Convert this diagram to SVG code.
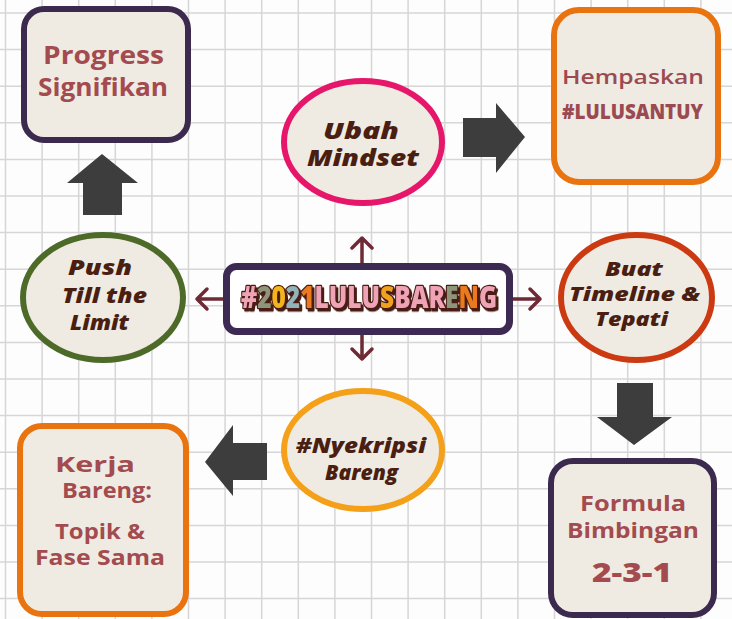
<svg xmlns="http://www.w3.org/2000/svg" width="732" height="619" viewBox="0 0 732 619">
<defs>
<style>
.bg{fill:#fdfdfd}
.grid{stroke:#d6d6d6;stroke-width:1.5;fill:none}
.box{fill:#efebe2;stroke-width:6}
.boxtxt{font-family:"Open Sans","Liberation Sans",sans-serif;font-weight:700;fill:#a34b4f;text-anchor:middle}
.lite{font-weight:600}
.heavy{font-weight:800}
.ital{font-family:"Open Sans","Liberation Sans",sans-serif;font-weight:800;font-style:italic;fill:#4a1f12;text-anchor:middle}
.block{fill:#3d3d3d}
.thin{stroke:#6e2a35;stroke-width:3.5;fill:none;stroke-linecap:round;stroke-linejoin:round}
.hash{font-family:"Open Sans","Liberation Sans",sans-serif;font-weight:800;font-size:25px;stroke:#4a1e14;stroke-width:2.2;stroke-linejoin:round;paint-order:stroke;text-anchor:middle}
.pk{fill:#efa3b6}.ol{fill:#8e957a}.ye{fill:#f2b51e}.bl{fill:#93b3bb}.or{fill:#ec7a1a}.ys{fill:#f0a21e}
</style>
<filter id="shadow" x="-10%" y="-30%" width="120%" height="160%">
<feDropShadow dx="2" dy="2" stdDeviation="0" flood-color="#4a1e14" flood-opacity="1"/>
</filter>
</defs>
<rect class="bg" x="0" y="0" width="732" height="619"/>
<path class="grid" d="M5.5 0V619M42.1 0V619M78.7 0V619M115.3 0V619M151.9 0V619M188.5 0V619M225.1 0V619M261.7 0V619M298.3 0V619M334.9 0V619M371.5 0V619M408.1 0V619M444.7 0V619M481.3 0V619M517.9 0V619M554.5 0V619M591.1 0V619M627.7 0V619M664.3 0V619M700.9 0V619M0 13H732M0 49.6H732M0 86.2H732M0 122.8H732M0 159.4H732M0 196H732M0 232.6H732M0 269.2H732M0 305.8H732M0 342.4H732M0 379H732M0 415.6H732M0 452.2H732M0 488.8H732M0 525.4H732M0 562H732M0 598.6H732"/>

<g id="connectors">
<polygon class="block" points="102,154 138,183 122,183 122,215 83,215 83,183 67,183"/>
<polygon class="block" points="463,118 496,118 496,103 525,137 496,173 496,157 463,157"/>
<polygon class="block" points="617,383 653,383 653,417 672,417 634,445 597,417 617,417"/>
<polygon class="block" points="205,462 233,425 233,443 267,443 267,480 233,480 233,496"/>
<path class="thin" d="M362 263V238M352 248L362 238L372 248"/>
<path class="thin" d="M362 335V359M352 349L362 359L372 349"/>
<path class="thin" d="M223 299H197M207 289L197 299L207 309"/>
<path class="thin" d="M513 299H540M530 289L540 299L530 309"/>
</g>

<g id="progress">
<rect class="box" x="24" y="9" width="164" height="131" rx="20" stroke="#3b2a4d"/>
<text class="boxtxt" font-size="25" x="103.5" y="64" textLength="121" lengthAdjust="spacingAndGlyphs">Progress</text>
<text class="boxtxt" font-size="25" x="103" y="96" textLength="130" lengthAdjust="spacingAndGlyphs">Signifikan</text>
</g>

<g id="hempaskan">
<rect class="box" x="554" y="10" width="164" height="172" rx="25" stroke="#e8730f"/>
<text class="boxtxt lite" font-size="20" x="633" y="84" textLength="142" lengthAdjust="spacingAndGlyphs" style="fill:#9c4a52">Hempaskan</text>
<text class="boxtxt heavy" font-size="21" x="632.5" y="119" textLength="141" lengthAdjust="spacingAndGlyphs" style="fill:#9c4a52">#LULUSANTUY</text>
</g>

<g id="ubah">
<ellipse cx="363" cy="142" rx="79" ry="61" fill="#efebe2" stroke="#e6176a" stroke-width="6"/>
<text class="ital" font-size="22" x="361" y="139" textLength="76" lengthAdjust="spacingAndGlyphs">Ubah</text>
<text class="ital" font-size="22" x="363" y="166" textLength="112" lengthAdjust="spacingAndGlyphs">Mindset</text>
</g>

<g id="center">
<rect x="226.5" y="266.5" width="283" height="65" rx="10" fill="#ffffff" stroke="#3d2a52" stroke-width="7"/>
<g filter="url(#shadow)" transform="translate(0,308) scale(1,1.22) translate(0,-308)">
<text class="hash" x="369" y="308" textLength="256" lengthAdjust="spacingAndGlyphs"><tspan class="pk">#</tspan><tspan class="ol">2</tspan><tspan class="ye">0</tspan><tspan class="bl">2</tspan><tspan class="or">1</tspan><tspan class="pk">L</tspan><tspan class="pk">U</tspan><tspan class="pk">L</tspan><tspan class="pk">U</tspan><tspan class="ys">S</tspan><tspan class="pk">B</tspan><tspan class="pk">A</tspan><tspan class="pk">R</tspan><tspan class="ol">E</tspan><tspan class="or">N</tspan><tspan class="pk">G</tspan></text>
</g>
</g>

<g id="push">
<ellipse cx="103" cy="297.5" rx="80" ry="62.5" fill="#efebe2" stroke="#4e6a28" stroke-width="6"/>
<text class="ital" font-size="21.5" x="100" y="275" textLength="64" lengthAdjust="spacingAndGlyphs">Push</text>
<text class="ital" font-size="21.5" x="104.5" y="303" textLength="85" lengthAdjust="spacingAndGlyphs">Till the</text>
<text class="ital" font-size="21.5" x="99.5" y="330" textLength="59" lengthAdjust="spacingAndGlyphs">Limit</text>
</g>

<g id="buat">
<ellipse cx="636.5" cy="297.5" rx="75.5" ry="62.5" fill="#efebe2" stroke="#cc3a12" stroke-width="6"/>
<text class="ital" font-size="19" x="634" y="276" textLength="58" lengthAdjust="spacingAndGlyphs">Buat</text>
<text class="ital" font-size="19" x="634.5" y="301" textLength="131" lengthAdjust="spacingAndGlyphs">Timeline &amp;</text>
<text class="ital" font-size="19" x="631.5" y="326" textLength="73" lengthAdjust="spacingAndGlyphs">Tepati</text>
</g>

<g id="nyekripsi">
<ellipse cx="363" cy="450" rx="79" ry="59" fill="#efebe2" stroke="#f4a019" stroke-width="6"/>
<text class="ital" font-size="21.5" x="361" y="453" textLength="130" lengthAdjust="spacingAndGlyphs">#Nyekripsi</text>
<text class="ital" font-size="21.5" x="361.5" y="480" textLength="73" lengthAdjust="spacingAndGlyphs">Bareng</text>
</g>

<g id="kerja">
<rect class="box" x="20" y="426" width="166" height="188" rx="22" stroke="#e8730f"/>
<text class="boxtxt" font-size="21" x="95" y="472" textLength="80" lengthAdjust="spacingAndGlyphs">Kerja</text>
<text class="boxtxt" font-size="21" x="107" y="498" textLength="90" lengthAdjust="spacingAndGlyphs">Bareng:</text>
<text class="boxtxt" font-size="21" x="100" y="539" textLength="90" lengthAdjust="spacingAndGlyphs">Topik &amp;</text>
<text class="boxtxt" font-size="21" x="100" y="565" textLength="130" lengthAdjust="spacingAndGlyphs">Fase Sama</text>
</g>

<g id="formula">
<rect class="box" x="551" y="461" width="163" height="154" rx="22" stroke="#3b2a4d"/>
<text class="boxtxt" font-size="21" x="633" y="511" textLength="106" lengthAdjust="spacingAndGlyphs">Formula</text>
<text class="boxtxt" font-size="21" x="633" y="538" textLength="132" lengthAdjust="spacingAndGlyphs">Bimbingan</text>
<text class="boxtxt heavy" font-size="26" x="632" y="582" textLength="80" lengthAdjust="spacingAndGlyphs">2-3-1</text>
</g>
</svg>
